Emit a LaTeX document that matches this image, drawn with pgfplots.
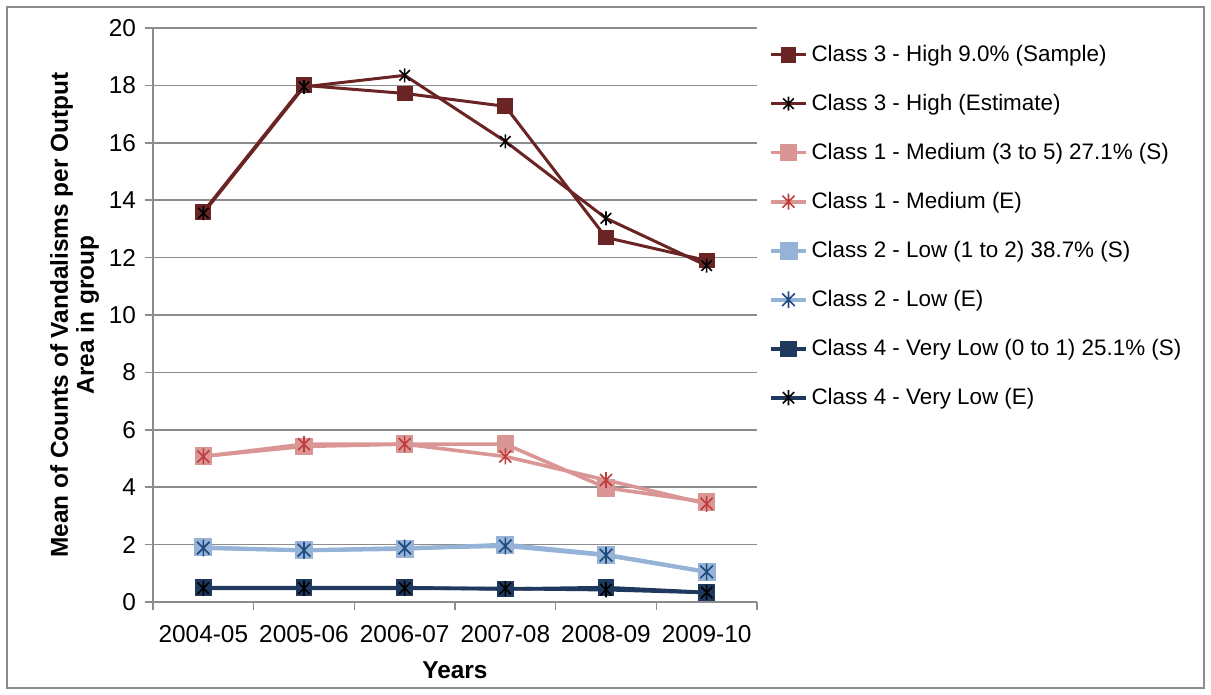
\documentclass[border=0pt]{standalone}
\usepackage{pgfplots}
\pgfplotsset{compat=1.18}
\usepackage{fontspec}
\setmainfont{Liberation Sans}

\definecolor{hiS}{RGB}{107,36,36}
\definecolor{medS}{RGB}{218,150,148}
\definecolor{medE}{RGB}{192,60,60}
\definecolor{lowS}{RGB}{149,179,215}
\definecolor{lowE}{RGB}{31,73,125}
\definecolor{vlS}{RGB}{31,56,93}
\definecolor{gridgray}{RGB}{140,140,140}

% Excel style star: an X with a vertical stroke
\pgfdeclareplotmark{xstar}{%
  \pgfpathmoveto{\pgfqpoint{0pt}{\pgfplotmarksize}}%
  \pgfpathlineto{\pgfqpoint{0pt}{-\pgfplotmarksize}}%
  \pgfpathmoveto{\pgfqpoint{-0.75\pgfplotmarksize}{0.75\pgfplotmarksize}}%
  \pgfpathlineto{\pgfqpoint{0.75\pgfplotmarksize}{-0.75\pgfplotmarksize}}%
  \pgfpathmoveto{\pgfqpoint{-0.75\pgfplotmarksize}{-0.75\pgfplotmarksize}}%
  \pgfpathlineto{\pgfqpoint{0.75\pgfplotmarksize}{0.75\pgfplotmarksize}}%
  \pgfusepathqstroke}

\begin{document}
\begin{tikzpicture}
% frame around the whole chart (1px = 0.5pt)
\useasboundingbox (-76.5pt,-46.5pt) rectangle (529pt,301pt);
\draw[gridgray,line width=0.8pt] (-73pt,-43pt) rectangle (525.5pt,297.5pt);
\begin{axis}[
    scale only axis,
    width=302pt, height=287pt,
    xmin=-0.5, xmax=5.5,
    ymin=0, ymax=20,
    ytick={0,2,...,20},
    xtick={0,...,5},
    xticklabels={2004-05,2005-06,2006-07,2007-08,2008-09,2009-10},
    minor xtick={-0.5,0.5,...,5.5},
    axis x line=bottom, axis y line=left,
    axis line style={gridgray,line width=0.8pt,-},
    x axis line style={-}, y axis line style={-},
    tick align=outside,
    major tick length=4pt, minor tick length=4pt,
    x tick style={draw=none},
    minor x tick style={draw=gridgray,line width=0.8pt},
    y tick style={gridgray,line width=0.8pt},
    ymajorgrids,
    grid style={gridgray,line width=0.8pt},
    tick label style={font=\fontsize{12.2}{14}\selectfont},
    /pgf/number format/assume math mode=true,
    xticklabel style={yshift=-4pt},
    yticklabel style={xshift=-1pt},
    xlabel={\textbf{Years}},
    ylabel={\textbf{Mean of Counts of Vandalisms per Output}\\\textbf{Area in group}},
    ylabel style={align=center,font=\fontsize{12.2}{13}\selectfont,yshift=-2pt},
    xlabel style={font=\fontsize{12.2}{14}\selectfont,yshift=-3pt},
    legend cell align=left,
    legend style={draw=none, fill=none, at={(1.01,0.985)}, anchor=north west,
      font=\fontsize{11.2}{13}\selectfont, row sep=10.9pt},
    clip=false,
]
\addplot[hiS, line width=1.5pt, mark=square*, mark size=3.2pt, mark options={solid,fill=hiS}]
  coordinates {(0,13.6) (1,18.0) (2,17.72) (3,17.27) (4,12.7) (5,11.9)};
\addlegendentry{Class 3 - High 9.0\% (Sample)}
\addplot[hiS, line width=1.5pt, mark=xstar, mark size=3.5pt, mark options={black,line width=0.8pt}]
  coordinates {(0,13.55) (1,17.95) (2,18.35) (3,16.05) (4,13.37) (5,11.72)};
\addlegendentry{Class 3 - High (Estimate)}
\addplot[medS, line width=1.8pt, mark=square*, mark size=3.5pt, mark options={solid,fill=medS}]
  coordinates {(0,5.08) (1,5.42) (2,5.5) (3,5.5) (4,3.98) (5,3.48)};
\addlegendentry{Class 1 - Medium (3 to 5) 27.1\% (S)}
\addplot[medS, line width=1.8pt, mark=xstar, mark size=4pt, mark options={medE,line width=0.8pt}]
  coordinates {(0,5.07) (1,5.5) (2,5.5) (3,5.07) (4,4.25) (5,3.42)};
\addlegendentry{Class 1 - Medium (E)}
\addplot[lowS, line width=2pt, mark=square*, mark size=3.5pt, mark options={solid,fill=lowS}]
  coordinates {(0,1.9) (1,1.8) (2,1.85) (3,2.0) (4,1.65) (5,1.05)};
\addlegendentry{Class 2 - Low (1 to 2) 38.7\% (S)}
\addplot[lowS, line width=2pt, mark=xstar, mark size=4.2pt, mark options={lowE,line width=0.8pt}]
  coordinates {(0,1.88) (1,1.8) (2,1.88) (3,1.95) (4,1.63) (5,1.05)};
\addlegendentry{Class 2 - Low (E)}
\addplot[vlS, line width=1.8pt, mark=square*, mark size=3.2pt, mark options={solid,fill=vlS}]
  coordinates {(0,0.5) (1,0.5) (2,0.5) (3,0.45) (4,0.5) (5,0.33)};
\addlegendentry{Class 4 - Very Low (0 to 1) 25.1\% (S)}
\addplot[vlS, line width=1.8pt, mark=xstar, mark size=3.8pt, mark options={black,line width=0.8pt}]
  coordinates {(0,0.48) (1,0.48) (2,0.48) (3,0.47) (4,0.43) (5,0.33)};
\addlegendentry{Class 4 - Very Low (E)}
\end{axis}
\end{tikzpicture}
\end{document}
